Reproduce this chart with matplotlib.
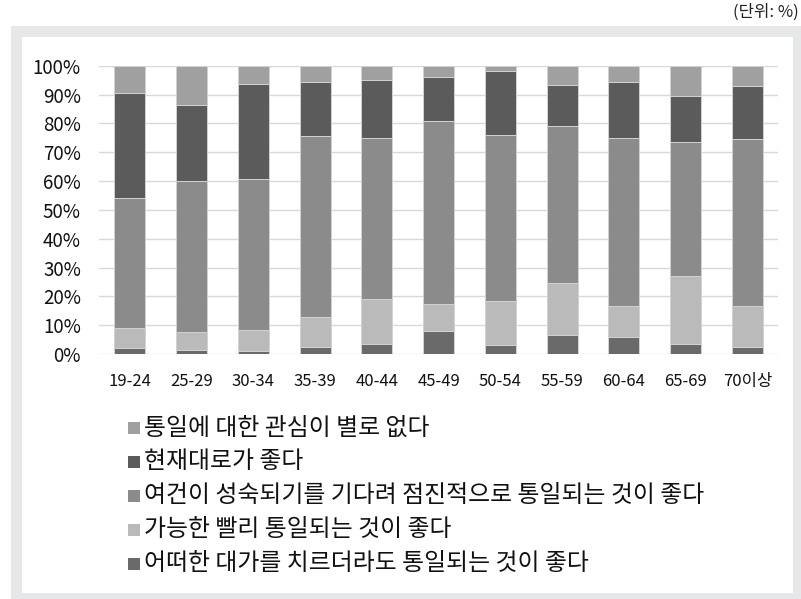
import matplotlib
matplotlib.use("Agg")
import matplotlib.pyplot as plt
from matplotlib.patches import Rectangle
from matplotlib.ticker import PercentFormatter
import numpy as np

plt.rcParams['font.family'] = ['Noto Sans CJK KR', 'DejaVu Sans']

# age groups
ages = ['19-24', '25-29', '30-34', '35-39', '40-44', '45-49',
        '50-54', '55-59', '60-64', '65-69', '70이상']

# shares (%) per answer, stacked from the bottom up
any_cost = [2.1, 1.4, 1.2, 2.3, 3.4, 8.0, 3.0, 6.6, 5.9, 3.4, 2.3]
asap = [6.8, 6.1, 7.2, 10.4, 15.7, 9.5, 15.5, 17.9, 10.9, 23.5, 14.5]
gradual = [45.3, 52.6, 52.2, 62.8, 55.9, 63.3, 57.5, 54.5, 58.0, 46.7, 57.7]
as_is = [36.3, 26.4, 32.9, 18.7, 19.9, 15.3, 22.3, 14.3, 19.4, 15.8, 18.6]
no_interest = [9.5, 13.5, 6.5, 5.8, 5.1, 3.9, 1.7, 6.7, 5.8, 10.6, 6.9]

labels = ['어떠한 대가를 치르더라도 통일되는 것이 좋다',
          '가능한 빨리 통일되는 것이 좋다',
          '여건이 성숙되기를 기다려 점진적으로 통일되는 것이 좋다',
          '현재대로가 좋다',
          '통일에 대한 관심이 별로 없다']
colors = ['#6a6a6a', '#bababa', '#8b8b8b', '#5b5b5b', '#a0a0a0']
series = [any_cost, asap, gradual, as_is, no_interest]

W, H = 801, 599
fig = plt.figure(figsize=(W / 100, H / 100), dpi=100)

# grey frame around the chart
fig.patches.append(Rectangle((11 / W, 0), 1, 1 - 26 / H, transform=fig.transFigure,
                             facecolor='#e6e7e8', edgecolor='none', zorder=-2))
fig.patches.append(Rectangle((22 / W, 6 / H), (793 - 22) / W, (593 - 37) / H,
                             transform=fig.transFigure, facecolor='white',
                             edgecolor='none', zorder=-1))

ax = fig.add_axes([99 / W, 1 - 354 / H, (778.3 - 99) / W, (354 - 65.7) / H])
ax.set_zorder(5)
ax.set_facecolor('none')

x = np.arange(len(ages))
bottom = np.zeros(len(ages))
for vals, col in zip(series, colors):
    ax.bar(x, vals, 0.5, bottom=bottom, color=col, edgecolor='#d2d2d2',
           linewidth=0.7, zorder=3)
    bottom += np.array(vals)

ax.set_xlim(-0.5, 10.5)
ax.set_ylim(0, 100)
ax.set_yticks(np.arange(0, 101, 10))
ax.yaxis.set_major_formatter(PercentFormatter(decimals=0))
ax.grid(axis='y', color='#d9d9d9', linewidth=1.0, zorder=0)
for s in ax.spines.values():
    s.set_visible(False)
ax.set_xticks(x)
ax.set_xticklabels(ages)
ax.tick_params(axis='y', length=0, pad=13, labelsize=13.5, labelcolor='#111111')
ax.tick_params(axis='x', length=0, pad=14, labelsize=12, labelcolor='#111111')

# legend, top entry is the top segment
row_y = [428, 462, 496, 530, 564]
for i, (lab, col) in enumerate(zip(labels[::-1], colors[::-1])):
    yc = row_y[i]
    fig.patches.append(Rectangle((128 / W, 1 - (yc + 6) / H), 12 / W, 12 / H,
                                 transform=fig.transFigure, facecolor=col,
                                 edgecolor='none', zorder=2))
    fig.text(144 / W, 1 - yc / H, lab, fontsize=17.2, va='center', ha='left',
             color='#111111')

fig.text(799 / W, 1 - 12 / H, '(단위: %)', fontsize=12, va='center', ha='right',
         color='#222222')

fig.savefig('out.png', dpi=100)
